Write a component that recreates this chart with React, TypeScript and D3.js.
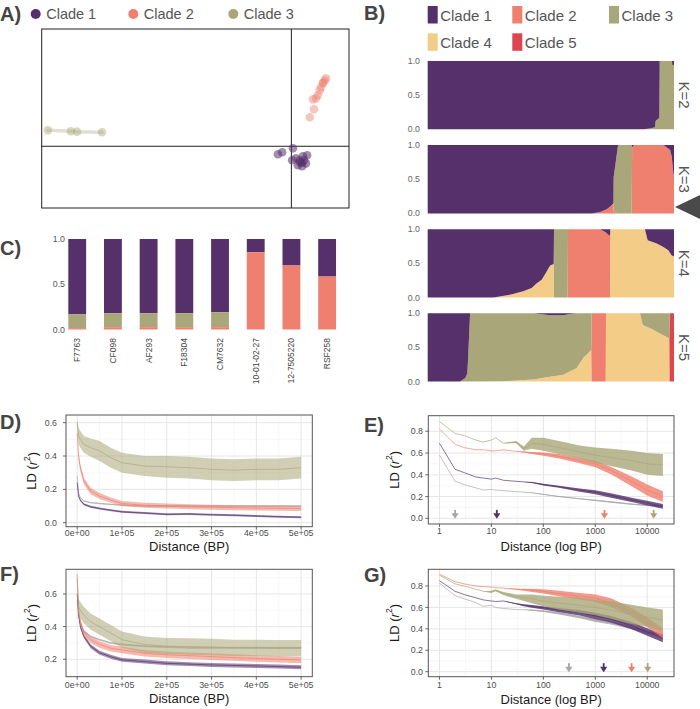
import React from "react";
import * as d3 from "d3";

const FONT = "'Liberation Sans', Arial, Helvetica, sans-serif";
const C1 = "#55306B";
const C2 = "#EF7F6E";
const C3 = "#A9A779";
const C4 = "#F3CD88";
const C5 = "#DC4650";
const GREY = "#A6A6A6";

// ---------- Panel A (PCA) ----------
const pcaClade1: [number, number][] = [
  [-0.024, -0.029], [-0.035, -0.039], [0.004, -0.01], [0.041, -0.044],
  [0.012, -0.058], [0.022, -0.078], [0.033, -0.068], [0.028, -0.097],
  [0.038, -0.083], [0.017, -0.092], [0.002, -0.068], [0.03, -0.049],
  [0.022, -0.068], [0.028, -0.08],
];
const pcaClade2: [number, number][] = [
  [0.09, 0.33], [0.087, 0.321], [0.082, 0.306], [0.077, 0.287], [0.074, 0.272],
  [0.069, 0.248], [0.064, 0.233], [0.056, 0.228], [0.059, 0.18], [0.048, 0.141],
  [0.083, 0.31],
];
const pcaClade3: [number, number][] = [
  [-0.634, 0.078], [-0.574, 0.073], [-0.558, 0.071], [-0.493, 0.068],
];
const pcaLegend = ["Clade 1", "Clade 2", "Clade 3"];

// ---------- Panel B (structure) ----------
const structLegend = ["Clade 1", "Clade 2", "Clade 3", "Clade 4", "Clade 5"];
const structTicks = [0, 0.5, 1];
const structKs = ["K=2", "K=3", "K=4", "K=5"];
// rows: [position along individuals (0-1), clade2, clade3, clade4, clade5]; clade1 = remainder
const structK2 = [
  [0, 0, 0, 0, 0], [0.8755, 0, 0, 0, 0], [0.9026, 0, 0.01, 0, 0], [0.9229, 0, 0.03, 0, 0],
  [0.9256, 0, 0.12, 0, 0], [0.9405, 0, 0.17, 0, 0], [0.942, 0, 1, 0, 0], [0.9919, 0, 1, 0, 0],
  [0.9932, 0, 0.94, 0, 0], [1, 0, 0.94, 0, 0],
];
const structK3 = [
  [0, 0, 0, 0, 0], [0.666, 0, 0, 0, 0], [0.7, 0.02, 0, 0, 0], [0.727, 0.06, 0, 0, 0],
  [0.747, 0.12, 0, 0, 0], [0.754, 0.15, 0, 0, 0], [0.755, 0.03, 0.5, 0, 0], [0.771, 0, 0.95, 0, 0],
  [0.773, 0, 1, 0, 0], [0.828, 0, 1, 0, 0], [0.83, 0.97, 0, 0, 0], [0.838, 1, 0, 0, 0],
  [0.957, 1, 0, 0, 0], [0.984, 0.93, 0, 0, 0], [0.991, 0.83, 0, 0, 0], [0.997, 0.6, 0, 0, 0],
  [1, 0.55, 0, 0, 0],
];
const structK4 = [
  [0, 0, 0, 0, 0], [0.267, 0, 0, 0, 0], [0.334, 0, 0, 0.04, 0], [0.388, 0, 0, 0.09, 0],
  [0.422, 0, 0, 0.14, 0], [0.443, 0, 0, 0.21, 0], [0.463, 0, 0, 0.26, 0], [0.483, 0, 0, 0.38, 0],
  [0.497, 0, 0, 0.47, 0], [0.5115, 0, 0, 0.49, 0], [0.5129, 0, 1, 0, 0], [0.5683, 0, 1, 0, 0],
  [0.5697, 1, 0, 0, 0], [0.7, 1, 0, 0, 0], [0.72, 0.96, 0, 0, 0], [0.74, 0.9, 0, 0, 0],
  [0.7415, 0, 0, 1, 0], [0.882, 0, 0, 1, 0], [0.893, 0, 0, 0.84, 0], [0.93, 0, 0, 0.79, 0],
  [0.957, 0, 0, 0.74, 0], [0.977, 0, 0, 0.69, 0], [0.99, 0, 0, 0.62, 0], [1, 0, 0, 0.6, 0],
];
const structK5 = [
  [0, 0, 0, 0, 0], [0.131, 0, 0, 0, 0], [0.152, 0, 0.05, 0, 0], [0.161, 0, 0.12, 0, 0],
  [0.166, 0, 0.5, 0, 0], [0.172, 0, 1, 0, 0], [0.3, 0, 0.995, 0.005, 0], [0.429, 0, 0.97, 0.03, 0],
  [0.497, 0, 0.9, 0.07, 0], [0.551, 0, 0.87, 0.1, 0], [0.578, 0, 0.84, 0.15, 0], [0.605, 0, 0.8, 0.2, 0],
  [0.632, 0, 0.65, 0.35, 0], [0.664, 0, 0.54, 0.46, 0], [0.6658, 1, 0, 0, 0], [0.7226, 1, 0, 0, 0],
  [0.724, 0, 0, 1, 0], [0.862, 0, 0, 1, 0], [0.873, 0, 0.17, 0.83, 0], [0.903, 0, 0.22, 0.78, 0],
  [0.93, 0, 0.27, 0.73, 0], [0.957, 0, 0.32, 0.68, 0], [0.981, 0, 0.37, 0.63, 0], [0.9824, 0, 0, 0, 1],
  [1, 0, 0, 0, 1],
];

// ---------- Panel C ----------
const cSamples = ["F7763", "CF098", "AF293", "F18304", "CM7632", "10-01-02-27", "12-7505220", "RSF258"];
const cClade2 = [0.015, 0.026, 0.026, 0.026, 0.026, 0.855, 0.707, 0.585];
const cClade3 = [0.155, 0.155, 0.155, 0.155, 0.165, 0, 0, 0];
const cTicks = [0, 0.5, 1];

// ---------- Panels D / F (linear distance) ----------
const linDist = [0, 3000, 7000, 15000, 30000, 50000, 75000, 100000, 150000, 200000, 250000, 300000, 350000, 400000, 450000, 500000];
const linTicks = [0, 100000, 200000, 300000, 400000, 500000];
const linTickLabels = ["0e+00", "1e+05", "2e+05", "3e+05", "4e+05", "5e+05"];

const dGrey = [0.28, 0.18, 0.15, 0.13, 0.12, 0.115, 0.11, 0.105, 0.1, 0.1, 0.1, 0.1, 0.1, 0.1, 0.1, 0.1];
const dGreySpread = [0, 0.004, 0.004, 0.004, 0.004, 0.004, 0.004, 0.004, 0.004, 0.004, 0.004, 0.004, 0.004, 0.004, 0.004, 0.004];
const dPurple = [0.24, 0.16, 0.135, 0.11, 0.095, 0.085, 0.075, 0.065, 0.058, 0.05, 0.052, 0.048, 0.045, 0.04, 0.036, 0.033];
const dPurpleSpread = [0, 0.006, 0.006, 0.006, 0.006, 0.006, 0.006, 0.006, 0.006, 0.006, 0.006, 0.006, 0.006, 0.006, 0.006, 0.006];
const dCoral = [0.54, 0.4, 0.33, 0.25, 0.19, 0.16, 0.135, 0.115, 0.105, 0.1, 0.095, 0.093, 0.09, 0.088, 0.087, 0.085];
const dCoralSpread = [0, 0.02, 0.02, 0.02, 0.02, 0.018, 0.016, 0.015, 0.015, 0.015, 0.015, 0.015, 0.015, 0.015, 0.015, 0.015];
const dOlive = [0.6, 0.52, 0.5, 0.47, 0.45, 0.43, 0.39, 0.36, 0.34, 0.335, 0.33, 0.32, 0.315, 0.32, 0.32, 0.33];
const dOliveSpread = [0.02, 0.05, 0.05, 0.05, 0.055, 0.06, 0.06, 0.06, 0.06, 0.065, 0.065, 0.065, 0.065, 0.065, 0.065, 0.065];

const fGrey = [0.56, 0.46, 0.42, 0.37, 0.34, 0.32, 0.3, 0.29, 0.28, 0.275, 0.27, 0.27, 0.27, 0.27, 0.27, 0.27];
const fGreySpread = [0, 0.006, 0.006, 0.006, 0.006, 0.006, 0.006, 0.006, 0.006, 0.006, 0.006, 0.006, 0.006, 0.006, 0.006, 0.006];
const fPurple = [0.6, 0.48, 0.4, 0.34, 0.28, 0.24, 0.215, 0.196, 0.186, 0.175, 0.17, 0.165, 0.162, 0.159, 0.155, 0.151];
const fPurpleSpread = [0, 0.012, 0.012, 0.012, 0.012, 0.012, 0.012, 0.012, 0.012, 0.012, 0.012, 0.012, 0.012, 0.012, 0.012, 0.012];
const fCoral = [0.72, 0.5, 0.43, 0.36, 0.32, 0.29, 0.267, 0.257, 0.237, 0.227, 0.222, 0.216, 0.21, 0.205, 0.2, 0.195];
const fCoralSpread = [0, 0.02, 0.02, 0.02, 0.02, 0.02, 0.02, 0.02, 0.02, 0.02, 0.02, 0.02, 0.02, 0.02, 0.02, 0.02];
const fOlive = [0.69, 0.52, 0.5, 0.47, 0.43, 0.4, 0.36, 0.32, 0.29, 0.28, 0.278, 0.275, 0.27, 0.27, 0.268, 0.268];
const fOliveSpread = [0.02, 0.05, 0.05, 0.05, 0.05, 0.05, 0.05, 0.05, 0.05, 0.05, 0.05, 0.05, 0.05, 0.05, 0.05, 0.05];

// ---------- Panels E / G (log distance) ----------
const logDist = [1, 2, 3, 5, 7, 10, 12, 17, 30, 42, 60, 100, 200, 500, 1000, 2000, 5000, 10000, 20000];
const logTicks = [1, 10, 100, 1000, 10000];
const logTickLabels = ["1", "10", "100", "1000", "10000"];

const eOlive = [0.89, 0.78, 0.76, 0.72, 0.7, 0.72, 0.74, 0.69, 0.7, 0.64, 0.69, 0.68, 0.65, 0.61, 0.58, 0.56, 0.53, 0.5, 0.49];
const eOliveSpread = [0, 0, 0, 0, 0, 0, 0, 0, 0.01, 0.02, 0.05, 0.06, 0.06, 0.06, 0.07, 0.08, 0.09, 0.1, 0.1];
const eCoral = [0.82, 0.68, 0.65, 0.63, 0.63, 0.62, 0.62, 0.63, 0.615, 0.61, 0.6, 0.59, 0.57, 0.53, 0.5, 0.44, 0.34, 0.26, 0.2];
const eCoralSpread = [0, 0, 0, 0, 0, 0, 0, 0, 0, 0.005, 0.01, 0.015, 0.02, 0.025, 0.03, 0.035, 0.045, 0.05, 0.05];
const ePurple = [0.69, 0.45, 0.42, 0.38, 0.37, 0.36, 0.37, 0.35, 0.34, 0.335, 0.33, 0.31, 0.29, 0.26, 0.24, 0.21, 0.17, 0.14, 0.11];
const ePurpleSpread = [0, 0, 0, 0, 0, 0, 0, 0, 0, 0, 0.005, 0.008, 0.01, 0.015, 0.018, 0.02, 0.02, 0.022, 0.022];
const eGrey = [0.58, 0.34, 0.31, 0.28, 0.26, 0.265, 0.26, 0.255, 0.245, 0.24, 0.235, 0.22, 0.2, 0.18, 0.165, 0.15, 0.13, 0.12, 0.11];
const eGreySpread = [0, 0, 0, 0, 0, 0, 0, 0, 0, 0, 0.003, 0.004, 0.005, 0.005, 0.006, 0.006, 0.006, 0.006, 0.006];
const eArrowDist = [2, 12.7, 1500, 13300];

const gCoral = [0.91, 0.84, 0.82, 0.8, 0.795, 0.79, 0.785, 0.78, 0.77, 0.765, 0.76, 0.75, 0.73, 0.705, 0.685, 0.645, 0.555, 0.46, 0.36];
const gCoralSpread = [0, 0, 0, 0, 0, 0, 0, 0, 0.005, 0.01, 0.015, 0.02, 0.025, 0.03, 0.035, 0.04, 0.04, 0.045, 0.045];
const gOlive = [0.9, 0.82, 0.8, 0.77, 0.75, 0.745, 0.76, 0.73, 0.7, 0.69, 0.68, 0.66, 0.64, 0.62, 0.6, 0.575, 0.535, 0.51, 0.48];
const gOliveSpread = [0, 0, 0, 0, 0, 0.01, 0.01, 0.015, 0.02, 0.03, 0.04, 0.05, 0.06, 0.07, 0.07, 0.08, 0.09, 0.09, 0.1];
const gPurple = [0.85, 0.75, 0.72, 0.69, 0.67, 0.66, 0.655, 0.66, 0.635, 0.62, 0.61, 0.595, 0.575, 0.55, 0.52, 0.49, 0.43, 0.37, 0.31];
const gPurpleSpread = [0, 0, 0, 0, 0, 0, 0, 0, 0.005, 0.01, 0.012, 0.015, 0.02, 0.025, 0.03, 0.03, 0.035, 0.035, 0.035];
const gGrey = [0.825, 0.71, 0.68, 0.645, 0.61, 0.62, 0.6, 0.59, 0.58, 0.578, 0.575, 0.565, 0.545, 0.51, 0.48, 0.455, 0.41, 0.37, 0.34];
const gGreySpread = [0, 0, 0, 0, 0, 0, 0, 0, 0, 0, 0.005, 0.008, 0.01, 0.012, 0.015, 0.015, 0.015, 0.015, 0.015];
const gArrowDist = [310, 1450, 5000, 10200];

const arrowColors = [GREY, C1, C2, C3];

type Series = { color: string; values: number[]; spread: number[] };

type LDProps = {
  id: string;
  left: number; right: number; top: number; bottom: number;
  log: boolean;
  xDomain: [number, number];
  yDomain: [number, number];
  dist: number[];
  series: Series[];
  yTicks: number[];
  yMinor: number[];
  xTicks: number[];
  xMinor: number[];
  xLabels: string[];
  yLabelRight: number;
  xLabelBase: number;
  titleBase: number;
  yTitleX: number;
  xTitle: string;
  ribbonOpacity: number;
  arrows?: number[];
};

function LDPanel(p: LDProps) {
  const x: any = p.log
    ? d3.scaleLog().domain(p.xDomain).range([p.left, p.right])
    : d3.scaleLinear().domain(p.xDomain).range([p.left, p.right]);
  const y = d3.scaleLinear().domain(p.yDomain).range([p.bottom, p.top]);
  const area = d3.area<[number, number, number]>()
    .x((d) => x(d[0]))
    .y0((d) => y(d[1] - d[2]))
    .y1((d) => y(d[1] + d[2]));
  const line = d3.line<[number, number, number]>()
    .x((d) => x(d[0]))
    .y((d) => y(d[1]));
  const cx = (p.left + p.right) / 2;
  const cy = (p.top + p.bottom) / 2;
  const fmt = d3.format(".1f");
  return (
    <g>
      <defs>
        <clipPath id={p.id}>
          <rect x={p.left} y={p.top} width={p.right - p.left} height={p.bottom - p.top} />
        </clipPath>
      </defs>
      <rect x={p.left} y={p.top} width={p.right - p.left} height={p.bottom - p.top} fill="#fff" />
      {p.yMinor.map((t) => (
        <line key={"ym" + t} x1={p.left} x2={p.right} y1={y(t)} y2={y(t)} stroke="#F2F2F2" strokeWidth={0.6} />
      ))}
      {p.xMinor.map((t) => (
        <line key={"xm" + t} y1={p.top} y2={p.bottom} x1={x(t)} x2={x(t)} stroke="#F2F2F2" strokeWidth={0.6} />
      ))}
      {p.yTicks.map((t) => (
        <line key={"yg" + t} x1={p.left} x2={p.right} y1={y(t)} y2={y(t)} stroke="#E6E6E6" strokeWidth={1} />
      ))}
      {p.xTicks.map((t) => (
        <line key={"xg" + t} y1={p.top} y2={p.bottom} x1={x(t)} x2={x(t)} stroke="#E6E6E6" strokeWidth={1} />
      ))}
      <g clipPath={`url(#${p.id})`}>
        {p.series.map((s, i) => {
          const pts: [number, number, number][] = p.dist.map((d, j) => [d, s.values[j], s.spread[j]]);
          return (
            <g key={i}>
              <path d={area(pts) || ""} fill={s.color} opacity={p.ribbonOpacity} />
              <path d={line(pts) || ""} fill="none" stroke={s.color} strokeWidth={0.8} strokeOpacity={0.85} />
            </g>
          );
        })}
        {(p.arrows || []).map((d, i) => {
          const ax = x(d);
          const tip = y(0) + 0.5;
          return (
            <g key={"ar" + i} fill={arrowColors[i]}>
              <rect x={ax - 0.9} y={tip - 9} width={1.8} height={5} />
              <path d={`M${ax - 3.6},${tip - 5.5}L${ax + 3.6},${tip - 5.5}L${ax},${tip}Z`} />
            </g>
          );
        })}
      </g>
      <rect x={p.left} y={p.top} width={p.right - p.left} height={p.bottom - p.top} fill="none" stroke="#555" strokeWidth={1} />
      {p.yTicks.map((t) => (
        <g key={"yt" + t}>
          <line x1={p.left - 3} x2={p.left} y1={y(t)} y2={y(t)} stroke="#444" strokeWidth={0.8} />
          <text x={p.yLabelRight} y={y(t) + 3.1} textAnchor="end" fontSize={8.8} fill="#4D4D4D">{fmt(t)}</text>
        </g>
      ))}
      {p.xTicks.map((t, i) => (
        <g key={"xt" + t}>
          <line y1={p.bottom} y2={p.bottom + 3} x1={x(t)} x2={x(t)} stroke="#444" strokeWidth={0.8} />
          <text x={x(t)} y={p.xLabelBase} textAnchor="middle" fontSize={8.8} fill="#4D4D4D">{p.xLabels[i]}</text>
        </g>
      ))}
      <text x={cx} y={p.titleBase} textAnchor="middle" fontSize={13} fill="#1a1a1a">{p.xTitle}</text>
      <text transform={`translate(${p.yTitleX},${cy}) rotate(-90)`} textAnchor="middle" dominantBaseline="central" fontSize={13} fill="#1a1a1a">
        LD (<tspan fontStyle="italic">r</tspan><tspan fontSize={8.5} dy={-5}>2</tspan><tspan dy={5}>)</tspan>
      </text>
    </g>
  );
}

export default function App() {
  // ---- A ----
  const aLeft = 41.7, aRight = 349, aTop = 29, aBottom = 208;
  const ax = d3.scaleLinear().domain([-0.65, 0.15]).range([aLeft, aRight]);
  const ay = d3.scaleLinear().domain([-0.3, 0.57]).range([aBottom, aTop]);
  const olLine = d3.line<[number, number]>().x((d) => ax(d[0])).y((d) => ay(d[1]));
  const pcaLegendX = [35.7, 133.3, 233.3];
  const pcaColors = [C1, C2, C3];

  // ---- B ----
  const bColors = [C1, C2, C3, C4, C5];
  const bLegendPos = [[427.7, 6], [512.3, 6], [609, 6], [427.7, 33.3], [512.3, 33.3]];
  const xs = d3.scaleLinear().domain([0, 1]).range([427.7, 674]);
  const structData = [structK2, structK3, structK4, structK5];
  const stackKeys = ["c4", "c2", "c5", "c3", "c1"];
  const keyColor: Record<string, string> = { c1: C1, c2: C2, c3: C3, c4: C4, c5: C5 };
  const bTop0 = 61, bStep = 84.1, bH = 68.3;

  // ---- C ----
  const xC = d3.scaleBand().domain(cSamples).range([50.45, 353.9]).paddingInner(0.5).paddingOuter(0.5);
  const yC = d3.scaleLinear().domain([0, 1]).range([329.5, 239]);

  const linXDomain: [number, number] = [-25000, 525000];
  const logXDomain: [number, number] = [Math.pow(10, -0.215), Math.pow(10, 4.515)];
  const linMinor = [50000, 150000, 250000, 350000, 450000];
  const logMinor = [Math.pow(10, 0.5), Math.pow(10, 1.5), Math.pow(10, 2.5), Math.pow(10, 3.5)];

  return (
    <svg width={700} height={709} style={{ position: "absolute", left: 0, top: 0, background: "#fff" }} fontFamily={FONT}>
      <rect x={0} y={0} width={700} height={709} fill="#fff" />
      {/* Panel labels */}
      {[
        ["A)", 0, 20.5], ["B)", 364, 20], ["C)", 0, 255], ["D)", 0, 429],
        ["E)", 364, 432], ["F)", 0, 581], ["G)", 364, 582],
      ].map(([t, x, y]) => (
        <text key={t as string} x={x as number} y={y as number} fontSize={20} fontWeight="bold" fill="#444">{t}</text>
      ))}

      {/* ---- A ---- */}
      {pcaLegend.map((t, i) => (
        <g key={t}>
          <circle cx={pcaLegendX[i]} cy={14} r={5} fill={pcaColors[i]} />
          <text x={pcaLegendX[i] + 10.5} y={19.3} fontSize={14.5} fill="#555">{t}</text>
        </g>
      ))}
      <rect x={aLeft} y={aTop} width={aRight - aLeft} height={aBottom - aTop} fill="#fff" stroke="#222" strokeWidth={1} />
      <line x1={ax(0)} x2={ax(0)} y1={aTop} y2={aBottom} stroke="#222" strokeWidth={1} />
      <line x1={aLeft} x2={aRight} y1={ay(0)} y2={ay(0)} stroke="#222" strokeWidth={1} />
      <path d={olLine(pcaClade3) || ""} fill="none" stroke={C3} strokeWidth={3.5} strokeLinecap="round" opacity={0.35} />
      {pcaClade3.map((d, i) => (
        <circle key={"p3" + i} cx={ax(d[0])} cy={ay(d[1])} r={4.3} fill={C3} opacity={0.45} />
      ))}
      {pcaClade2.map((d, i) => (
        <circle key={"p2" + i} cx={ax(d[0])} cy={ay(d[1])} r={4.3} fill={C2} opacity={0.45} />
      ))}
      {pcaClade1.map((d, i) => (
        <circle key={"p1" + i} cx={ax(d[0])} cy={ay(d[1])} r={4.3} fill={C1} opacity={0.55} />
      ))}

      {/* ---- B ---- */}
      {structLegend.map((t, i) => (
        <g key={t}>
          <rect x={bLegendPos[i][0]} y={bLegendPos[i][1]} width={10} height={17.5} fill={bColors[i]} />
          <text x={bLegendPos[i][0] + 12.5} y={bLegendPos[i][1] + 14.5} fontSize={15} fill="#555">{t}</text>
        </g>
      ))}
      {structData.map((rows, k) => {
        const top = bTop0 + k * bStep;
        const ys = d3.scaleLinear().domain([0, 1]).range([top + bH, top]);
        const objs = rows.map((r) => ({
          f: r[0], c2: r[1], c3: r[2], c4: r[3], c5: r[4],
          c1: Math.max(0, 1 - r[1] - r[2] - r[3] - r[4]),
        }));
        const stacked = d3.stack<any>().keys(stackKeys)(objs);
        const area = d3.area<any>().x((d) => xs(d.data.f)).y0((d) => ys(d[0])).y1((d) => ys(d[1]));
        return (
          <g key={"k" + k}>
            {stacked.map((s) => (
              <path key={s.key} d={area(s as any) || ""} fill={keyColor[s.key]} />
            ))}
            {structTicks.map((t) => (
              <text key={t} x={420} y={ys(t) + 3} textAnchor="end" fontSize={8.8} fill="#666">{t.toFixed(1)}</text>
            ))}
            <text transform={`translate(684,${top + bH / 2}) rotate(90)`} textAnchor="middle" dominantBaseline="central" fontSize={15} fill="#555">{structKs[k]}</text>
          </g>
        );
      })}
      <path d="M675,207L700,195L700,219Z" fill="#4a4a4a" />

      {/* ---- C ---- */}
      {cSamples.map((s, i) => {
        const x0 = xC(s) as number;
        const w = xC.bandwidth();
        const v2 = cClade2[i], v3 = cClade3[i];
        return (
          <g key={s}>
            <rect x={x0} y={yC(1)} width={w} height={yC(v2 + v3) - yC(1)} fill={C1} />
            <rect x={x0} y={yC(v2 + v3)} width={w} height={yC(v2) - yC(v2 + v3)} fill={C3} />
            <rect x={x0} y={yC(v2)} width={w} height={yC(0) - yC(v2)} fill={C2} />
            <text transform={`translate(${x0 + w / 2},${338}) rotate(-90)`} textAnchor="end" dominantBaseline="central" fontSize={8.5} fill="#444">{s}</text>
          </g>
        );
      })}
      {cTicks.map((t) => (
        <text key={"ct" + t} x={65} y={yC(t) + 3} textAnchor="end" fontSize={8.8} fill="#555">{t.toFixed(1)}</text>
      ))}

      {/* ---- D ---- */}
      <LDPanel
        id="clipD" left={66} right={312.3} top={415} bottom={526.7} log={false}
        xDomain={linXDomain} yDomain={[-0.024, 0.646]} dist={linDist}
        series={[
          { color: GREY, values: dGrey, spread: dGreySpread },
          { color: C1, values: dPurple, spread: dPurpleSpread },
          { color: C2, values: dCoral, spread: dCoralSpread },
          { color: C3, values: dOlive, spread: dOliveSpread },
        ]}
        yTicks={[0, 0.2, 0.4, 0.6]} yMinor={[0.1, 0.3, 0.5]}
        xTicks={linTicks} xMinor={linMinor} xLabels={linTickLabels}
        yLabelRight={57} xLabelBase={536} titleBase={550.8} yTitleX={31.5}
        xTitle="Distance (BP)" ribbonOpacity={0.55}
      />
      {/* ---- E ---- */}
      <LDPanel
        id="clipE" left={428.3} right={674} top={415.7} bottom={524} log={true}
        xDomain={logXDomain} yDomain={[-0.052, 0.943]} dist={logDist}
        series={[
          { color: GREY, values: eGrey, spread: eGreySpread },
          { color: C1, values: ePurple, spread: ePurpleSpread },
          { color: C2, values: eCoral, spread: eCoralSpread },
          { color: C3, values: eOlive, spread: eOliveSpread },
        ]}
        yTicks={[0, 0.2, 0.4, 0.6, 0.8]} yMinor={[0.1, 0.3, 0.5, 0.7, 0.9]}
        xTicks={logTicks} xMinor={logMinor} xLabels={logTickLabels}
        yLabelRight={423} xLabelBase={534} titleBase={550.8} yTitleX={394}
        xTitle="Distance (log BP)" ribbonOpacity={0.8} arrows={eArrowDist}
      />
      {/* ---- F ---- */}
      <LDPanel
        id="clipF" left={66} right={312.3} top={569.3} bottom={676.7} log={false}
        xDomain={linXDomain} yDomain={[0.093, 0.751]} dist={linDist}
        series={[
          { color: GREY, values: fGrey, spread: fGreySpread },
          { color: C1, values: fPurple, spread: fPurpleSpread },
          { color: C2, values: fCoral, spread: fCoralSpread },
          { color: C3, values: fOlive, spread: fOliveSpread },
        ]}
        yTicks={[0.2, 0.4, 0.6]} yMinor={[0.1, 0.3, 0.5, 0.7]}
        xTicks={linTicks} xMinor={linMinor} xLabels={linTickLabels}
        yLabelRight={57} xLabelBase={688.3} titleBase={703.3} yTitleX={31.5}
        xTitle="Distance (BP)" ribbonOpacity={0.55}
      />
      {/* ---- G ---- */}
      <LDPanel
        id="clipG" left={428.3} right={674} top={569.3} bottom={676.7} log={true}
        xDomain={logXDomain} yDomain={[-0.047, 0.956]} dist={logDist}
        series={[
          { color: GREY, values: gGrey, spread: gGreySpread },
          { color: C1, values: gPurple, spread: gPurpleSpread },
          { color: C2, values: gCoral, spread: gCoralSpread },
          { color: C3, values: gOlive, spread: gOliveSpread },
        ]}
        yTicks={[0, 0.2, 0.4, 0.6, 0.8]} yMinor={[0.1, 0.3, 0.5, 0.7, 0.9]}
        xTicks={logTicks} xMinor={logMinor} xLabels={logTickLabels}
        yLabelRight={423} xLabelBase={688.3} titleBase={703.5} yTitleX={394}
        xTitle="Distance (log BP)" ribbonOpacity={0.8} arrows={gArrowDist}
      />
    </svg>
  );
}
